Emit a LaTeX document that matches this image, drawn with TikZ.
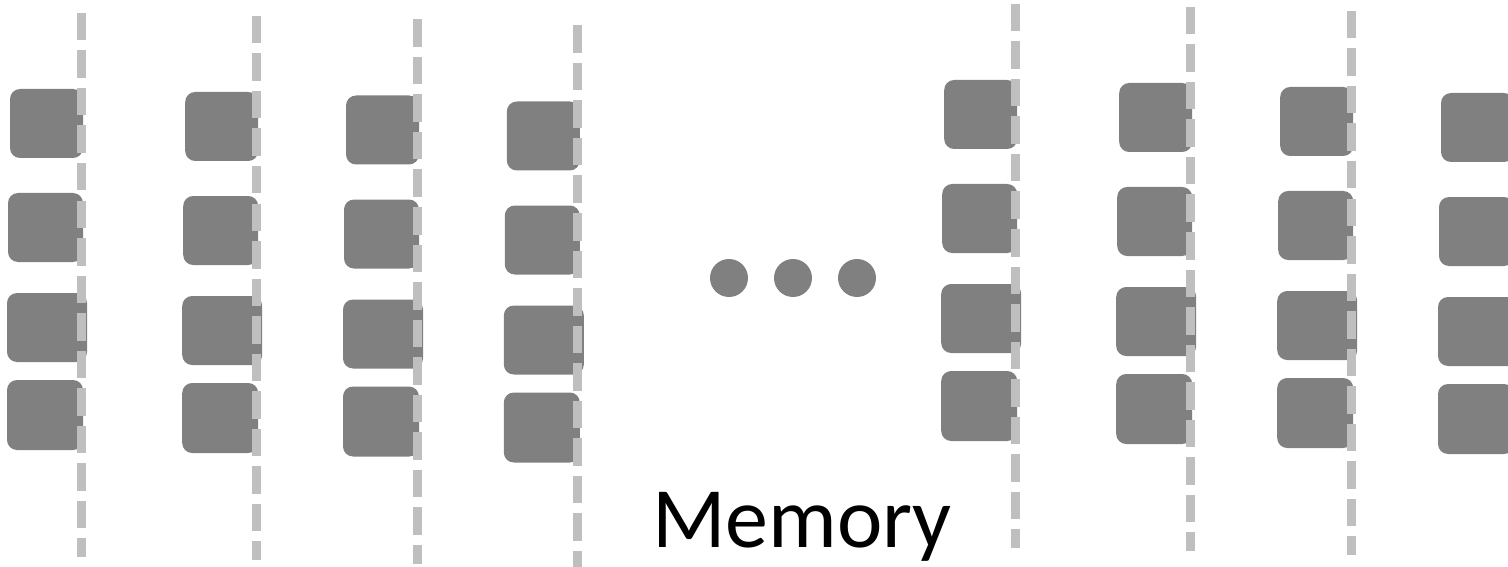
\documentclass[tikz,border=0pt]{standalone}
\usepackage{fontspec}
\setmainfont{Carlito}
\definecolor{boxgray}{RGB}{128,128,128}
\definecolor{dashgray}{RGB}{191,191,191}
\tikzset{
  membox/.style={rectangle, fill=boxgray, draw=none, rounded corners=10pt,
    inner sep=0pt, minimum height=69pt},
  dashline/.style={draw=dashgray, line width=9pt, dash pattern=on 27.5pt off 10pt},
  memdot/.style={circle, fill=boxgray, draw=none, inner sep=0pt, minimum size=38pt},
  memlabel/.style={inner sep=0pt, anchor=base, font=\fontsize{86}{100}\selectfont}
}
\begin{document}
\begin{tikzpicture}[x=1pt,y=-1pt]
\useasboundingbox (0,0) rectangle (1508,567);
\foreach \i/\dx/\dy in {1/0/0, 2/175.2/3, 3/336/6.5, 4/496.8/12.5, 5/934.2/-9, 6/1109.2/-6, 7/1270.2/-2, 8/1431/4}{
  \node[membox, minimum width=73pt] (c\i-1) at (46.5+\dx, 123.5+\dy) {};
  \node[membox, minimum width=75pt] (c\i-2) at (45.5+\dx, 227.5+\dy) {};
  \node[membox, minimum width=80pt] (c\i-3) at (47+\dx, 327.5+\dy) {};
  \node[membox, minimum width=76pt, minimum height=70pt] (c\i-4) at (45+\dx, 415+\dy) {};
  \coordinate (c\i-t) at (81+\dx, 13+\dy);
  \coordinate (c\i-b) at (81+\dx, 557+\dy);
  \draw[dashline] (c\i-t) -- (c\i-b);
}
\node[memdot] (d1) at (729,278) {};
\node[memdot] (d2) at (793,278) {};
\node[memdot] (d3) at (857,278) {};
\node[memlabel] (mem) at (802,547) {Memory};
\end{tikzpicture}
\end{document}
